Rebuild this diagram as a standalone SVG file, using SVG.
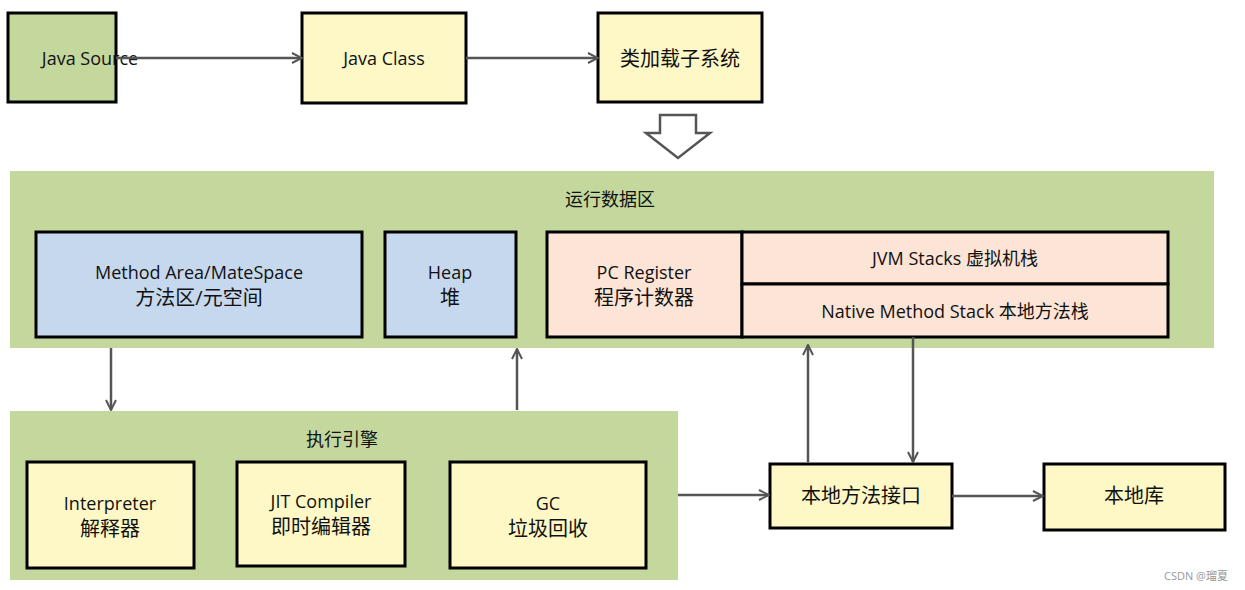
<svg xmlns="http://www.w3.org/2000/svg" width="1245" height="590" viewBox="0 0 1245 590">
<defs>
<style>
.b{stroke:#000;stroke-width:3}
.y{fill:#fdf8c6}.g{fill:#c4d79d}.bl{fill:#c6d8ee}.p{fill:#fce4d6}
text{font-family:"Open Sans","Noto Sans CJK SC",sans-serif;font-size:18px;fill:#111;text-anchor:middle}
.c{stroke:#555;stroke-width:2.5;fill:none;marker-end:url(#a)}
</style>
<marker id="a" viewBox="0 0 12 12" refX="11" refY="6" markerWidth="12" markerHeight="12" markerUnits="userSpaceOnUse" orient="auto"><path d="M1,1 L11,6 L1,11" fill="none" stroke="#555" stroke-width="2"/></marker>
</defs>
<rect width="1245" height="590" fill="#fff"/>
<g id="runtime"><rect x="10" y="171" width="1204" height="177" class="g"/><text x="610" y="206">运行数据区</text></g>
<g id="engine"><rect x="10" y="411" width="668" height="169" class="g"/><text x="342" y="446">执行引擎</text></g>
<g id="javasource"><rect x="8" y="13" width="108" height="89" class="b g"/><text x="90" y="65">Java Source</text></g>
<g id="javaclass"><rect x="302" y="13" width="164" height="90" class="b y"/><text x="384" y="65">Java Class</text></g>
<g id="classloader"><rect x="598" y="13" width="164" height="89" class="b y"/><text x="680" y="66" style="font-size:20px">类加载子系统</text></g>
<g id="hollow"><path d="M660,115 H696 V133 H710 L678,158 L646,133 H660 Z" fill="#fff" stroke="#555" stroke-width="2.5"/></g>
<g id="method"><rect x="36" y="232" width="326" height="105" class="b bl"/><text x="199" y="279">Method Area/MateSpace</text><text x="199" y="305" style="font-size:20px">方法区/元空间</text></g>
<g id="heap"><rect x="385" y="232" width="131" height="105" class="b bl"/><text x="450" y="279">Heap</text><text x="450" y="305" style="font-size:20px">堆</text></g>
<g id="pc"><rect x="547" y="232" width="195" height="105" class="b p"/><text x="644" y="279">PC Register</text><text x="644" y="305" style="font-size:20px">程序计数器</text></g>
<g id="jvmstacks"><rect x="742" y="232" width="426" height="52" class="b p"/><text x="955" y="265">JVM Stacks 虚拟机栈</text></g>
<g id="nativestack"><rect x="742" y="284" width="426" height="53" class="b p"/><text x="955" y="318">Native Method Stack 本地方法栈</text></g>
<g id="interp"><rect x="27" y="462" width="167" height="106" class="b y"/><text x="110" y="510">Interpreter</text><text x="110" y="536" style="font-size:20px">解释器</text></g>
<g id="jit"><rect x="237" y="462" width="168" height="104" class="b y"/><text x="321" y="508">JIT Compiler</text><text x="321" y="534" style="font-size:20px">即时编辑器</text></g>
<g id="gc"><rect x="450" y="462" width="196" height="106" class="b y"/><text x="548" y="510">GC</text><text x="548" y="536" style="font-size:20px">垃圾回收</text></g>
<g id="nativeif"><rect x="770" y="464" width="182" height="64" class="b y"/><text x="861" y="503" style="font-size:20px">本地方法接口</text></g>
<g id="nativelib"><rect x="1044" y="464" width="181" height="66" class="b y"/><text x="1134" y="503" style="font-size:20px">本地库</text></g>
<g id="connectors">
<path class="c" d="M116,58 H302"/>
<path class="c" d="M466,58 H598"/>
<path class="c" d="M111,348 V410"/>
<path class="c" d="M517,410 V349"/>
<path class="c" d="M678,495 H769"/>
<path class="c" d="M808,462 V345"/>
<path class="c" d="M913,337 V462"/>
<path class="c" d="M952,496 H1043"/>
</g>
<text x="1196" y="580" style="font-size:11px;fill:#999">CSDN @瑠夏</text>
</svg>
